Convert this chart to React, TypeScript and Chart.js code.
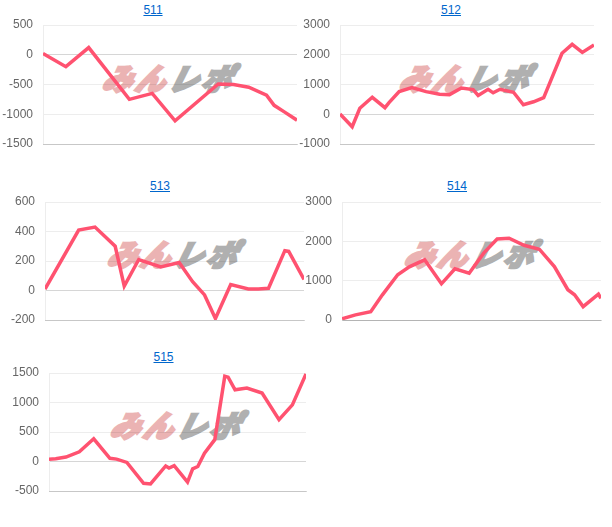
import React, { useEffect, useRef } from "react";
import { Chart, registerables } from "chart.js";

Chart.register(...registerables);

// ---- data (x = position along the hidden sequence axis, 0..100) ----
const titles = ["511", "512", "513", "514", "515"];

const x511 = [0, 9, 18, 34, 43, 52, 69, 75, 81, 88, 91, 95, 100];
const y511 = [20, -200, 120, -750, -650, -1110, -490, -500, -545, -680, -850, -960, -1100];
const ticks511 = [-1500, -1000, -500, 0, 500];

const x512 = [0, 4.8, 7.8, 12.7, 17.7, 19.3, 23.3, 28.3, 33.9, 39.2, 43.1, 47.8, 52.4, 54.4, 58.3, 60.3, 63, 68.3, 72.2, 76.2, 80.2, 87.4, 91.4, 95.4, 100];
const y512 = [10, -420, 200, 570, 220, 390, 760, 900, 760, 670, 660, 880, 830, 630, 840, 720, 840, 740, 320, 420, 560, 2050, 2350, 2080, 2330];
const ticks512 = [-1000, 0, 1000, 2000, 3000];

const x513 = [0, 13, 19.3, 27.1, 30.6, 36.2, 44.7, 51.8, 57, 61.6, 65.8, 71.7, 78.5, 82.4, 86.3, 92.6, 94.1, 100];
const y513 = [10, 410, 430, 300, 30, 210, 160, 190, 60, -30, -190, 40, 10, 10, 15, 270, 265, 75];
const ticks513 = [-200, 0, 200, 400, 600];

const x514 = [0, 5.2, 11.1, 15.6, 21.5, 26, 31.9, 38.4, 43.6, 49.1, 54.7, 59.9, 64.5, 70.3, 76.2, 82, 87.2, 89.8, 93.1, 99, 100];
const y514 = [30, 130, 210, 640, 1150, 1350, 1530, 920, 1300, 1190, 1700, 2060, 2080, 1900, 1800, 1360, 770, 640, 340, 660, 550];
const ticks514 = [0, 1000, 2000, 3000];

const x515 = [0, 2.6, 6.6, 11.8, 17.4, 23.7, 26.3, 30.3, 36.8, 39.5, 45.4, 46.7, 48.7, 53.9, 55.9, 57.9, 60.5, 64.5, 68.4, 69.7, 72.4, 77, 82.9, 89.5, 94.7, 100];
const y515 = [40, 45, 75, 165, 385, 55, 40, -15, -370, -380, -75, -110, -70, -350, -125, -85, 140, 370, 1445, 1430, 1215, 1245, 1160, 710, 960, 1485];
const ticks515 = [-500, 0, 500, 1000, 1500];

const seriesX = [x511, x512, x513, x514, x515];
const seriesY = [y511, y512, y513, y514, y515];
const seriesTicks = [ticks511, ticks512, ticks513, ticks514, ticks515];

// ---- layout (plot rectangles in page coordinates) ----
const boxes = [
  { l: 43, r: 297, t: 25, b: 144, tc: 153, tt: 3 },
  { l: 340, r: 594, t: 25, b: 144, tc: 451, tt: 3 },
  { l: 45, r: 304, t: 202, b: 320, tc: 160, tt: 179 },
  { l: 342, r: 601, t: 202, b: 320, tc: 457, tt: 179 },
  { l: 49, r: 306, t: 373, b: 491, tc: 163.5, tt: 350 },
];

const Y_W = 44;
const PAD_T = 10;
const PAD_B = 10;
const PAD_R = 4;
const LINE = "rgb(255, 82, 112)";
const FONT = "'Liberation Sans', Arial, sans-serif";

function MiniChart({ idx }: { idx: number }) {
  const ref = useRef<HTMLCanvasElement | null>(null);
  const box = boxes[idx];
  const w = box.r - box.l + Y_W + PAD_R;
  const h = box.b - box.t + PAD_T + PAD_B;

  useEffect(() => {
    if (!ref.current) return;
    const xs = seriesX[idx];
    const ys = seriesY[idx];
    const tk = seriesTicks[idx];
    const chart = new Chart(ref.current, {
      type: "line",
      data: {
        datasets: [
          {
            data: xs.map((x, i) => ({ x, y: ys[i] })),
            borderColor: LINE,
            backgroundColor: LINE,
            borderWidth: 3.5,
            pointRadius: 0,
            tension: 0,
            fill: false,
          },
        ],
      },
      options: {
        animation: false,
        responsive: false,
        devicePixelRatio: 1,
        layout: { padding: { left: 0, top: PAD_T, right: PAD_R, bottom: PAD_B } },
        plugins: { legend: { display: false }, tooltip: { enabled: false } },
        scales: {
          x: {
            type: "linear",
            min: 0,
            max: 100,
            ticks: { display: false },
            grid: { display: false, drawTicks: false },
            border: { display: true, color: "rgba(0,0,0,0.16)", width: 1 },
            afterFit: (s: any) => {
              s.height = 0;
              s.paddingLeft = 0;
              s.paddingRight = 0;
            },
          },
          y: {
            min: tk[0],
            max: tk[tk.length - 1],
            ticks: {
              stepSize: tk[1] - tk[0],
              padding: 10,
              color: "#666",
              font: { family: FONT, size: 12 },
              callback: (v: any) => String(v),
            },
            grid: {
              drawTicks: false,
              color: (c: any) => (c.tick && c.tick.value === 0 ? "rgba(0,0,0,0.16)" : "rgba(0,0,0,0.07)"),
            },
            border: { display: true, color: "rgba(0,0,0,0.07)", width: 1 },
            afterFit: (s: any) => {
              s.width = Y_W;
              s.paddingTop = 0;
              s.paddingBottom = 0;
            },
          },
        },
      },
    } as any);
    return () => chart.destroy();
  }, [idx]);

  const logoCx = (box.l + box.r) / 2;
  const logoCy = (box.t + box.b) / 2 - 8;

  return (
    <>
      <div
        style={{
          position: "absolute",
          left: box.tc - 40,
          top: box.tt,
          width: 80,
          textAlign: "center",
          fontFamily: FONT,
          fontSize: 12,
          lineHeight: "14px",
        }}
      >
        <a href="#" style={{ color: "#0066cc", textDecoration: "underline" }}>
          {titles[idx]}
        </a>
      </div>
      <div
        style={{
          position: "absolute",
          left: logoCx - 80,
          top: logoCy - 18,
          width: 160,
          height: 36,
          display: "flex",
          justifyContent: "center",
          alignItems: "center",
          fontFamily: "'Noto Sans CJK JP', sans-serif",
          fontWeight: 900,
          fontSize: 30,
          fontStyle: "italic",
          letterSpacing: 3,
          transform: "skewX(-14deg)",
          whiteSpace: "nowrap",
          lineHeight: "36px",
        }}
      >
        <span style={{ color: "#ebb3b3", WebkitTextStroke: "2.5px #ebb3b3" } as any}>みん</span>
        <span style={{ color: "#b0b0b0", WebkitTextStroke: "2.5px #b0b0b0" } as any}>レポ</span>
      </div>
      <canvas
        ref={ref}
        width={w}
        height={h}
        style={{
          position: "absolute",
          left: box.l - Y_W,
          top: box.t - PAD_T,
          width: w,
          height: h,
        }}
      />
    </>
  );
}

export default function App() {
  return (
    <div style={{ position: "absolute", left: 0, top: 0, width: 612, height: 527, background: "#fff" }}>
      {titles.map((_, i) => (
        <MiniChart key={i} idx={i} />
      ))}
    </div>
  );
}
